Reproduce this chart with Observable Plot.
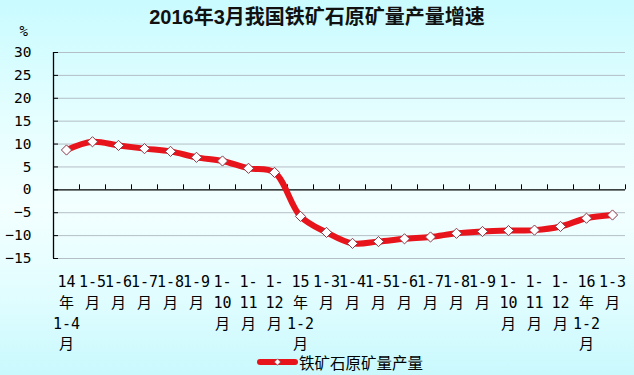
<!DOCTYPE html>
<html>
<head>
<meta charset="utf-8">
<script src="https://cdn.jsdelivr.net/npm/d3@7"></script>
<script src="https://cdn.jsdelivr.net/npm/@observablehq/plot@0.6"></script>
<style>
  html, body { margin: 0; padding: 0; }
  #chart {
    position: relative; width: 634px; height: 375px; overflow: hidden;
    background: linear-gradient(180deg, #c9fbff 0%, #e4feff 30%, #f3ffff 55%, #e2fdff 78%, #c9f9fd 100%);
    font-family: "DejaVu Sans Mono", "Noto Sans CJK SC", sans-serif;
  }
  #title {
    position: absolute; left: 0; width: 634px; top: 1px; text-align: center;
    font: bold 20px "Liberation Sans", "Noto Sans CJK SC", sans-serif; color: #111;
  }
  #legend {
    position: absolute; left: 257px; top: 351px; height: 22px;
    display: flex; align-items: center; font: 15.5px "Noto Sans CJK SC", sans-serif; color: #000;
  }
  #chart svg.plot { position: absolute; left: 0; top: 0; }
</style>
</head>
<body>
<div id="chart">
  <div id="title"></div>
  <div id="legend"></div>
</div>
<script>
const title = "2016年3月我国铁矿石原矿量产量增速";
const seriesName = "铁矿石原矿量产量";
const unitLabel = "%";
const categories = [
  "14年1-4月","1-5月","1-6月","1-7月","1-8月","1-9月","1-10月","1-11月","1-12月",
  "15年1-2月","1-3月","1-4月","1-5月","1-6月","1-7月","1-8月","1-9月","1-10月","1-11月","1-12月",
  "16年1-2月","1-3月"
];
const tickLabels = [
  "14\n年\n1-4\n月","1-5\n月","1-6\n月","1-7\n月","1-8\n月","1-9\n月","1-\n10\n月","1-\n11\n月","1-\n12\n月",
  "15\n年\n1-2\n月","1-3\n月","1-4\n月","1-5\n月","1-6\n月","1-7\n月","1-8\n月","1-9\n月","1-\n10\n月","1-\n11\n月","1-\n12\n月",
  "16\n年\n1-2\n月","1-3\n月"
];
const values = [
  8.7, 10.5, 9.7, 9.0, 8.4, 7.1, 6.3, 4.7, 3.8,
  -5.8, -9.3, -11.7, -11.3, -10.7, -10.3, -9.5, -9.1, -8.9, -8.8, -8.0,
  -6.2, -5.5
];
const yTicks = [30, 25, 20, 15, 10, 5, 0, -5, -10, -15];

const data = values.map((v, i) => ({i, v, c: categories[i]}));
const idx = categories.map((c, i) => i);
const bounds = categories.map((c, i) => i + 0.5);
const gridTicks = yTicks.filter(t => t !== 0);

document.getElementById("title").textContent = title;
document.getElementById("legend").innerHTML =
  `<svg width="41" height="12" style="margin-right:1px"><line x1="3" y1="6" x2="38" y2="6" stroke="#e8141c" stroke-width="6" stroke-linecap="round"/><path d="M20.5,2.8L23.7,6L20.5,9.2L17.3,6Z" fill="#fff" stroke="#8b3a4a" stroke-width="0.8"/></svg><span>${seriesName}</span>`;

const plot = Plot.plot({
  width: 634,
  height: 375,
  marginTop: 52,
  marginBottom: 117,
  marginLeft: 53,
  marginRight: 9,
  style: {background: "transparent", fontFamily: "\"DejaVu Sans Mono\", \"Noto Sans CJK SC\", sans-serif", fontSize: "14px", color: "#000"},
  x: {domain: [-0.5, categories.length - 0.5], axis: null},
  y: {domain: [-15, 30], axis: null},
  marks: [
    Plot.ruleY(gridTicks, {stroke: "#b4bec6", strokeWidth: 1}),
    Plot.ruleY([0], {stroke: "#000", strokeWidth: 1.3}),
    Plot.ruleX([-0.5], {stroke: "#000", strokeWidth: 1.3}),
    Plot.ruleY(yTicks, {x1: -0.5, x2: -0.5, insetRight: -5, stroke: "#000", strokeWidth: 1}),
    Plot.ruleX(bounds, {y1: 0, y2: 0, insetTop: -5, stroke: "#000", strokeWidth: 1}),
    Plot.axisY(yTicks, {label: null, tickSize: 0, tickPadding: 22, fontSize: 14.5, tickFormat: d => String(d).replace("-", "−")}),
    Plot.text(idx, {x: d => d, frameAnchor: "bottom", text: d => tickLabels[d], lineAnchor: "top", dy: 14, lineHeight: 1.38, fontSize: 15, fill: "#000"}),
    Plot.text([unitLabel], {frameAnchor: "top-left", dx: -34, dy: -26, fontSize: 14, fill: "#000"}),
    Plot.line(data, {x: "i", y: "v", stroke: "#e8141c", strokeWidth: 6, curve: "catmull-rom", strokeLinejoin: "round"}),
    Plot.dot(data, {x: "i", y: "v", symbol: "diamond2", r: 4.6, fill: "#fff", stroke: "#8b3a4a", strokeWidth: 1})
  ]
});
plot.classList.add("plot");
document.getElementById("chart").appendChild(plot);
</script>
</body>
</html>
